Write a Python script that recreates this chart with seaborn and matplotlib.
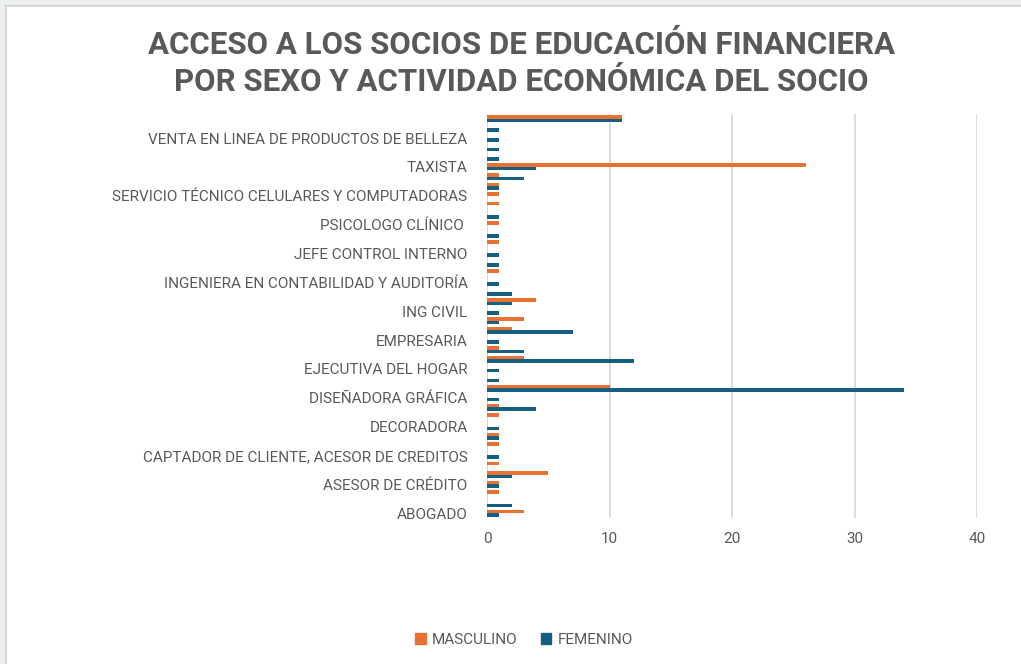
import seaborn as sns
import matplotlib.pyplot as plt
import matplotlib.patches as mpatches
import pandas as pd

# actividades (orden alfabetico, de abajo hacia arriba como en excel)
actividades = [
    'ABOGADO', 'ADMINISTRADORA', 'AGRICULTOR', 'ASESOR DE CRÉDITO',
    'ASISTENTE ADMINISTRATIVA', 'AUXILIAR CONTABLE',
    'CAPTADOR DE CLIENTE, ACESOR DE CREDITOS', 'COMERCIANTE', 'CONTADORA',
    'DECORADORA', 'DIRECTORA', 'DISEÑADOR', 'DISEÑADORA GRÁFICA', 'DOCENTE',
    'EDUCADORA', 'EJECUTIVA DEL HOGAR', 'EMPLEADO PRIVADO', 'EMPLEADO PÚBLICO',
    'EMPRESARIA', 'ESTUDIANTE', 'GERENTE', 'ING CIVIL', 'ING COMERCIAL',
    'INGENIERA COMERCIAL', 'INGENIERA EN CONTABILIDAD Y AUDITORÍA',
    'INGENIERO MECÁNICO', 'JEFA DE AGENCIA', 'JEFE CONTROL INTERNO', 'MECÁNICO',
    'NUTRICIONISTA', 'PSICOLOGO CLÍNICO ', 'SECRETARIA', 'SERVICIO DE TRANSPORTE',
    'SERVICIO TÉCNICO CELULARES Y COMPUTADORAS', 'SOLDADOR', 'SUPERVISOR',
    'TAXISTA', 'TECNÓLOGA', 'TRABAJADORA SOCIAL',
    'VENTA EN LINEA DE PRODUCTOS DE BELLEZA', 'VENTAS', '(en blanco)']

masculino = [3, 0, 1, 1, 5, 1, 0, 1, 1, 0, 1, 1, 0, 10, 0, 0, 3, 1, 0, 2, 3,
             0, 4, 0, 0, 1, 0, 0, 1, 0, 1, 0, 1, 1, 1, 1, 26, 0, 0, 0, 0, 11]
femenino = [1, 2, 0, 1, 2, 0, 1, 0, 1, 1, 0, 4, 1, 34, 1, 1, 12, 3, 1, 7, 1,
            1, 2, 2, 1, 0, 1, 1, 0, 1, 0, 1, 0, 0, 1, 3, 4, 1, 1, 1, 1, 11]

series = ['MASCULINO', 'FEMENINO']
colores = ['#E97132', '#156082']
gris = '#595959'

df = pd.DataFrame({'actividad': actividades, 'MASCULINO': masculino, 'FEMENINO': femenino})
df_long = df.melt(id_vars='actividad', var_name='sexo', value_name='socios')

orden = actividades[::-1]  # seaborn pone la primera arriba

sns.set_style('white')
plt.rcParams['font.family'] = ['Roboto', 'DejaVu Sans']

fig = plt.figure(figsize=(10.21, 6.64), dpi=100)
# marco gris de la hoja como en la captura
fig.patch.set_facecolor('#ECEFF0')
fig.patches.append(mpatches.Rectangle((6 / 1021, -0.05), 1.1, 1.05 - 6 / 664, transform=fig.transFigure,
                                      facecolor='white', edgecolor='#D6D6D6', lw=1.5, zorder=-1))

ax = fig.add_axes([487 / 1021, 1 - 518 / 664, 490 / 1021, 404 / 664])
ax.set_facecolor('none')

sns.barplot(data=df_long, y='actividad', x='socios', hue='sexo', order=orden,
            hue_order=series, palette=colores, orient='h', width=0.74,
            saturation=1, linewidth=0, ax=ax, legend=False)

ax.set_xlim(0, 40)
ax.set_xticks([0, 10, 20, 30, 40])
ax.xaxis.grid(True, color='#D9D9D9', lw=1.3)
ax.set_axisbelow(True)
ax.axvline(0, color='#D9D9D9', lw=1.3, zorder=0.5)

# solo una de cada tres etiquetas como en excel
pos = [len(orden) - 1 - i for i in range(0, len(actividades), 3)]
ax.set_yticks(pos)
ax.set_yticklabels([actividades[i] for i in range(0, len(actividades), 3)])
ax.tick_params(axis='y', length=0, pad=14, labelsize=11, labelcolor=gris)
ax.tick_params(axis='x', length=0, pad=10, labelsize=11, labelcolor=gris)
ax.set_xlabel('')
ax.set_ylabel('')
sns.despine(ax=ax, left=True, bottom=True)

fig.text(521 / 1021, 1 - 45 / 664, 'ACCESO A LOS SOCIOS DE EDUCACIÓN FINANCIERA',
         ha='center', va='center', fontsize=22.5, fontweight='bold', color=gris)
fig.text(521 / 1021, 1 - 82 / 664, 'POR SEXO Y ACTIVIDAD ECONÓMICA DEL SOCIO',
         ha='center', va='center', fontsize=22.5, fontweight='bold', color=gris)

handles = [mpatches.Patch(color=c, label=s) for c, s in zip(colores, series)]
fig.legend(handles=handles, loc='center', bbox_to_anchor=(524 / 1021, 1 - 640 / 664), ncol=2,
           frameon=False, fontsize=11, handlelength=0.7, handleheight=0.7,
           handletextpad=0.4, columnspacing=1.5, labelcolor=gris)

fig.savefig('out.png', dpi=100)
